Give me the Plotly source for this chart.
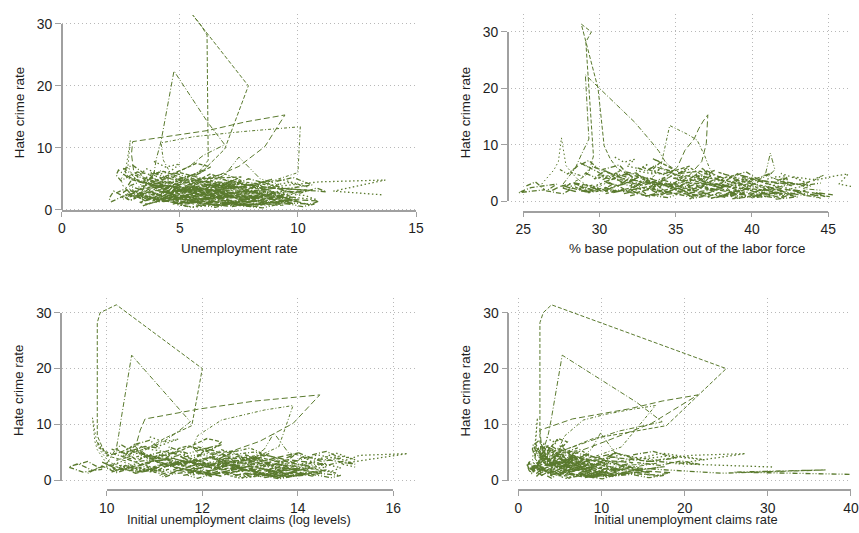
import plotly.graph_objects as go

W, H = 859, 533
# The page is photographed with an 8px frame and scaled back to 859x533, so
# target screen pixels are converted to paper pixels through this mapping.
FRAME = 8
SX, SY = (W + 2 * FRAME) / W, (H + 2 * FRAME) / H

# ---------------- data: one row per state, 14 yearly observations ----------------
# Hate crime rate (shared by all four panels)
hate = [
    [3.5, 4.2, 5.1, 8.0, 28.2, 30.0, 31.4, 20.0, 9.8, 7.5, 6.0, 5.2, 4.8, 4.1],
    [3.0, 4.5, 5.8, 8.2, 11.0, 22.4, 14.0, 10.5, 8.8, 7.0, 6.2, 5.5, 4.8, 4.0],
    [2.5, 3.5, 4.8, 6.0, 9.0, 11.0, 12.8, 14.2, 15.3, 10.2, 7.0, 5.5, 4.3, 3.6],
    [2.0, 3.2, 4.0, 5.9, 8.0, 10.8, 11.8, 12.6, 13.4, 6.0, 4.5, 3.8, 3.0, 2.2],
    [3.0, 4.2, 5.5, 7.0, 11.2, 6.3, 4.9, 3.8, 3.1, 2.6, 2.2, 2.9, 3.4, 2.7],
    [2.8, 3.3, 4.1, 5.0, 8.5, 5.6, 4.4, 3.6, 3.0, 2.5, 3.1, 2.7, 2.2, 1.9],
    [2.1, 2.8, 1.9, 3.4, 2.6, 2.2, 3.0, 1.5, 2.4, 3.1, 2.0, 1.7, 2.5, 1.9],
    [3.8, 4.5, 3.2, 4.9, 4.1, 3.6, 5.2, 4.4, 3.9, 3.0, 3.5, 4.2, 3.3, 2.8],
    [1.2, 0.8, 1.5, 1.1, 0.6, 1.9, 1.4, 0.9, 1.3, 0.7, 1.0, 1.6, 0.5, 1.2],
    [5.6, 4.8, 6.3, 5.1, 4.4, 5.9, 6.8, 5.3, 4.6, 3.9, 4.7, 5.5, 4.1, 3.6],
    [2.9, 3.3, 2.4, 2.0, 2.7, 3.6, 2.2, 1.8, 2.6, 3.2, 2.3, 1.6, 2.1, 2.8],
    [0.9, 1.4, 0.7, 1.8, 2.3, 1.5, 1.0, 0.6, 1.2, 1.7, 0.8, 1.1, 0.4, 0.9],
    [4.2, 3.6, 4.8, 3.9, 3.1, 4.5, 3.7, 2.9, 3.4, 4.1, 3.2, 2.6, 3.8, 3.0],
    [6.5, 7.2, 5.8, 6.1, 5.3, 4.7, 5.6, 6.4, 4.9, 4.3, 5.0, 3.8, 4.5, 3.9],
    [1.6, 2.2, 1.3, 2.7, 1.9, 1.1, 2.4, 1.7, 1.0, 2.0, 1.4, 0.8, 1.5, 1.1],
    [3.1, 2.5, 3.7, 2.9, 3.5, 2.3, 2.8, 3.9, 3.3, 2.4, 3.0, 2.7, 2.2, 3.4],
    [7.8, 6.9, 7.4, 6.2, 5.7, 6.6, 5.4, 4.8, 5.9, 5.1, 4.4, 5.3, 4.0, 4.6],
    [0.5, 0.9, 1.3, 0.7, 1.6, 1.0, 0.4, 0.8, 1.2, 0.6, 1.4, 0.9, 0.3, 0.7],
    [2.4, 1.8, 2.9, 3.5, 2.7, 2.0, 1.5, 2.3, 2.9, 1.9, 2.6, 3.2, 2.1, 1.6],
    [4.6, 5.2, 4.0, 3.4, 4.3, 5.0, 3.7, 3.1, 4.2, 3.6, 2.9, 3.5, 2.7, 3.2],
    [1.9, 2.6, 3.1, 2.3, 1.7, 2.5, 3.3, 2.8, 2.1, 1.6, 2.4, 1.8, 1.3, 2.0],
    [3.6, 4.1, 3.0, 2.6, 3.8, 4.4, 3.4, 2.5, 3.1, 3.7, 2.8, 2.3, 3.2, 2.6],
    [3.9, 4.4, 3.7, 4.9, 4.0, 3.3, 4.3, 3.8, 4.6, 3.6, 4.5, 4.8, 3.0, 2.4],
    [1.4, 1.9, 2.5, 1.8, 1.2, 2.2, 1.6, 1.0, 1.7, 2.3, 1.3, 1.9, 1.5, 1.1],
    [6.0, 5.4, 6.9, 7.5, 6.3, 5.5, 4.8, 5.7, 6.2, 4.9, 5.3, 4.5, 5.8, 4.2],
    [2.7, 3.4, 2.0, 1.5, 2.4, 3.0, 1.8, 1.3, 2.2, 2.8, 1.9, 1.4, 2.6, 1.7],
    [1.8, 2.3, 1.5, 2.0, 2.9, 2.2, 1.6, 1.3, 1.9, 2.5, 1.7, 1.2, 2.0, 1.5],
    [3.3, 2.7, 3.9, 3.1, 2.5, 3.6, 2.9, 2.2, 2.8, 3.5, 2.6, 2.1, 3.0, 2.4],
    [0.7, 1.1, 0.5, 1.4, 0.9, 0.6, 1.2, 0.8, 0.4, 1.0, 0.7, 1.3, 0.6, 0.9],
    [4.9, 4.2, 5.4, 4.6, 3.8, 4.4, 5.1, 3.9, 3.3, 4.0, 3.4, 2.8, 3.6, 3.1],
    [2.2, 1.7, 2.6, 3.0, 2.4, 1.8, 2.7, 2.1, 1.6, 2.3, 1.9, 2.5, 1.4, 1.8],
    [3.9, 3.4, 4.4, 3.7, 3.0, 3.6, 4.1, 3.2, 2.7, 3.3, 2.9, 2.4, 3.1, 2.6],
    [1.3, 1.7, 1.0, 1.5, 2.1, 1.4, 0.9, 1.2, 1.8, 1.1, 1.5, 0.8, 1.3, 1.0],
    [5.2, 5.8, 4.7, 4.1, 5.0, 5.5, 4.3, 3.7, 4.5, 5.1, 3.9, 3.4, 4.2, 3.5],
    [2.6, 3.1, 2.2, 1.7, 2.5, 3.2, 2.4, 1.9, 2.7, 2.1, 1.6, 2.3, 1.8, 2.2],
    [0.8, 1.2, 1.6, 1.0, 0.6, 1.3, 1.8, 1.1, 0.7, 1.4, 0.9, 0.5, 1.1, 0.8],
    [3.5, 4.0, 3.1, 2.7, 3.6, 4.3, 3.3, 2.8, 3.4, 3.9, 2.9, 2.5, 3.2, 2.7],
    [1.5, 2.0, 2.6, 1.9, 1.3, 1.8, 2.3, 1.6, 1.1, 1.7, 2.2, 1.4, 1.0, 1.5],
    [4.4, 3.8, 4.9, 4.2, 3.5, 4.0, 4.6, 3.6, 3.0, 3.7, 3.2, 2.7, 3.5, 2.9],
    [2.0, 2.5, 1.6, 2.2, 2.8, 2.1, 1.5, 1.9, 2.4, 1.7, 2.0, 1.3, 1.8, 1.4],
    [3.0, 3.6, 2.5, 3.2, 3.9, 2.8, 2.3, 3.1, 3.6, 2.6, 3.0, 2.2, 2.7, 2.3],
    [5.9, 5.3, 6.4, 5.6, 4.8, 5.4, 6.0, 4.9, 4.2, 4.8, 4.3, 3.7, 4.6, 4.0],
]

# Unemployment rate
unemp = [
    [4.5, 4.8, 5.6, 6.2, 6.15, 5.85, 5.55, 7.9, 6.9, 6.3, 5.9, 5.2, 4.9, 4.6],
    [3.4, 3.6, 3.9, 4.0, 4.2, 4.75, 6.2, 6.9, 6.0, 5.4, 5.0, 4.6, 4.3, 3.9],
    [4.6, 4.2, 3.7, 3.05, 2.95, 3.0, 6.2, 7.8, 9.45, 8.6, 7.5, 6.6, 5.9, 5.3],
    [6.5, 5.9, 5.2, 4.6, 4.3, 4.2, 5.6, 7.6, 10.1, 10.0, 8.8, 7.6, 6.8, 6.1],
    [3.6, 3.3, 3.0, 2.8, 2.9, 2.7, 2.5, 2.6, 3.0, 3.5, 4.8, 4.3, 3.8, 3.3],
    [8.0, 8.7, 9.2, 8.4, 7.5, 6.9, 6.2, 5.7, 6.5, 7.8, 10.5, 9.9, 9.1, 8.2],
    [5.2, 6.8, 7.4, 6.1, 5.5, 4.9, 4.3, 4.0, 4.6, 5.8, 6.3, 5.6, 8.9, 7.7],
    [4.1, 4.6, 5.3, 5.9, 5.0, 4.4, 3.8, 3.5, 3.9, 4.8, 5.5, 7.2, 6.4, 5.1],
    [6.9, 7.5, 8.3, 7.1, 6.4, 5.8, 5.2, 4.7, 5.5, 6.6, 9.8, 9.1, 8.2, 7.0],
    [3.1, 3.6, 4.2, 3.8, 3.3, 2.9, 2.6, 2.8, 3.4, 4.0, 5.1, 4.5, 3.7, 3.2],
    [7.8, 8.6, 9.4, 8.1, 7.2, 6.5, 5.9, 5.4, 6.2, 7.4, 10.3, 10.8, 9.6, 8.5],
    [4.9, 5.4, 6.1, 5.6, 4.8, 4.2, 3.7, 3.4, 3.9, 5.0, 7.9, 7.3, 6.5, 5.7],
    [6.0, 6.7, 7.3, 6.6, 5.9, 5.3, 4.8, 4.4, 5.1, 6.2, 8.8, 8.3, 7.4, 6.5],
    [2.6, 3.0, 3.5, 3.2, 2.8, 2.5, 2.3, 2.4, 2.9, 3.6, 4.4, 3.9, 3.3, 2.9],
    [8.4, 9.1, 10.0, 8.9, 8.0, 7.3, 6.6, 6.1, 6.8, 8.1, 10.9, 10.5, 9.8, 8.8],
    [5.6, 6.3, 6.9, 6.2, 5.5, 4.9, 4.4, 4.1, 4.7, 5.9, 8.3, 7.9, 7.0, 6.1],
    [3.9, 4.4, 5.0, 4.6, 4.1, 3.6, 3.2, 3.0, 3.5, 4.3, 5.9, 5.4, 4.8, 4.2],
    [7.2, 7.9, 8.7, 7.6, 6.8, 6.1, 5.5, 5.0, 5.8, 7.0, 9.6, 9.2, 8.5, 7.5],
    [4.5, 5.0, 5.7, 5.2, 4.6, 4.0, 3.5, 3.2, 3.7, 4.7, 6.9, 6.4, 5.8, 5.0],
    [9.1, 9.8, 10.6, 9.5, 8.6, 7.9, 7.1, 6.6, 7.4, 8.8, 11.2, 10.8, 10.1, 9.3],
    [3.4, 3.9, 4.5, 4.1, 3.6, 3.2, 2.8, 2.6, 3.1, 3.8, 5.3, 4.9, 4.3, 3.7],
    [6.4, 7.1, 7.8, 7.0, 6.3, 5.6, 5.0, 4.6, 5.3, 6.4, 9.2, 8.7, 7.9, 6.9],
    [8.9, 9.6, 10.4, 9.3, 8.5, 7.8, 7.0, 6.4, 7.2, 8.7, 10.9, 13.7, 11.5, 13.6],
    [7.5, 8.2, 9.0, 8.0, 7.1, 6.4, 5.7, 5.3, 6.0, 7.3, 10.0, 9.5, 8.7, 7.7],
    [5.0, 5.6, 6.3, 5.7, 5.0, 4.5, 4.0, 3.7, 4.3, 5.3, 7.6, 7.1, 6.3, 5.5],
    [2.3, 2.7, 3.1, 2.9, 2.5, 2.2, 2.0, 2.1, 2.6, 3.2, 3.9, 3.5, 3.0, 2.6],
    [5.9, 6.5, 7.1, 6.5, 5.8, 5.2, 4.6, 4.3, 4.9, 6.0, 8.6, 8.0, 7.2, 6.3],
    [4.3, 4.8, 5.4, 5.0, 4.4, 3.9, 3.4, 3.1, 3.6, 4.5, 6.6, 6.1, 5.4, 4.7],
    [6.6, 7.2, 8.0, 7.3, 6.5, 5.9, 5.3, 4.9, 5.6, 6.8, 9.4, 8.9, 8.0, 7.1],
    [3.7, 4.2, 4.8, 4.4, 3.9, 3.4, 3.0, 2.8, 3.3, 4.1, 5.7, 5.2, 4.6, 4.0],
    [7.0, 7.7, 8.5, 7.8, 7.0, 6.3, 5.6, 5.2, 6.0, 7.2, 9.9, 9.4, 8.6, 7.6],
    [5.4, 6.0, 6.6, 6.0, 5.3, 4.7, 4.2, 3.9, 4.5, 5.6, 7.9, 7.4, 6.7, 5.9],
    [4.7, 5.2, 5.9, 5.4, 4.7, 4.1, 3.6, 3.3, 3.8, 4.9, 7.2, 6.7, 6.0, 5.2],
    [6.2, 6.9, 7.6, 6.8, 6.1, 5.4, 4.9, 4.5, 5.2, 6.3, 9.0, 8.5, 7.6, 6.7],
    [3.2, 3.7, 4.3, 3.9, 3.4, 3.0, 2.7, 2.5, 3.0, 3.7, 5.0, 4.6, 4.0, 3.5],
    [8.1, 8.8, 9.7, 8.6, 7.7, 7.0, 6.3, 5.8, 6.6, 7.9, 10.7, 10.2, 9.4, 8.4],
    [4.0, 4.5, 5.1, 4.7, 4.2, 3.7, 3.3, 3.0, 3.5, 4.4, 6.2, 5.7, 5.0, 4.4],
    [5.7, 6.4, 7.0, 6.4, 5.7, 5.1, 4.5, 4.2, 4.8, 5.9, 8.5, 8.0, 7.1, 6.2],
    [7.4, 8.1, 8.9, 8.2, 7.3, 6.6, 5.9, 5.5, 6.3, 7.5, 10.4, 9.8, 9.0, 8.0],
    [3.5, 4.0, 4.6, 4.2, 3.7, 3.3, 2.9, 2.7, 3.2, 3.9, 5.4, 5.0, 4.4, 3.8],
    [6.8, 7.4, 8.2, 7.4, 6.6, 6.0, 5.4, 5.0, 5.7, 6.9, 9.5, 9.0, 8.2, 7.2],
    [4.8, 5.3, 6.0, 5.5, 4.8, 4.3, 3.8, 3.5, 4.0, 5.1, 7.4, 6.9, 6.1, 5.3],
]

# % base population out of the labor force
out_lf = [
    [28.4, 28.9, 29.3, 29.6, 29.1, 29.46, 28.8, 29.9, 30.3, 30.7, 31.1, 31.5, 31.9, 32.3],
    [27.6, 28.0, 28.4, 28.8, 29.3, 29.07, 32.3, 33.4, 33.9, 34.3, 34.6, 35.0, 35.3, 35.7],
    [33.5, 34.0, 34.6, 35.1, 35.6, 36.2, 36.5, 36.8, 37.1, 37.0, 36.7, 36.2, 35.8, 35.4],
    [38.5, 38.0, 37.6, 37.2, 36.9, 36.4, 35.8, 35.2, 34.6, 34.0, 33.6, 33.2, 32.8, 32.4],
    [26.2, 26.6, 27.0, 27.3, 27.5, 27.8, 28.2, 28.6, 29.0, 29.4, 29.8, 30.2, 30.6, 31.0],
    [39.4, 40.0, 40.6, 40.9, 41.2, 41.5, 41.1, 41.8, 42.4, 41.7, 43.2, 43.9, 43.3, 44.6],
    [33.1, 33.8, 34.2, 33.5, 34.6, 35.0, 34.1, 33.7, 34.9, 35.6, 36.2, 35.1, 36.8, 37.4],
    [30.2, 30.8, 31.5, 31.1, 31.9, 32.4, 31.7, 32.8, 33.2, 32.5, 33.6, 34.3, 33.9, 34.8],
    [36.5, 37.1, 37.8, 38.4, 37.6, 38.9, 39.5, 38.2, 39.8, 40.4, 41.2, 40.6, 41.9, 42.5],
    [27.4, 27.9, 28.6, 28.1, 28.9, 29.4, 28.7, 29.8, 30.3, 29.6, 30.9, 31.4, 30.7, 31.8],
    [38.1, 38.7, 39.4, 38.8, 39.9, 40.5, 39.6, 40.9, 41.6, 40.8, 42.3, 43.1, 42.4, 43.7],
    [32.0, 32.6, 33.3, 32.8, 33.7, 34.2, 33.4, 34.5, 35.1, 34.4, 35.8, 36.5, 35.9, 37.0],
    [35.2, 35.7, 36.4, 35.9, 36.8, 37.3, 36.5, 37.6, 38.2, 37.5, 38.9, 39.6, 38.8, 40.1],
    [28.8, 29.3, 29.9, 29.5, 30.4, 30.9, 30.2, 31.3, 31.8, 31.1, 32.4, 33.0, 32.3, 33.5],
    [40.2, 40.8, 41.5, 40.9, 41.8, 42.4, 41.6, 42.9, 43.5, 42.7, 44.1, 44.8, 44.2, 45.3],
    [34.0, 34.5, 35.2, 34.7, 35.6, 36.1, 35.3, 36.4, 37.0, 36.3, 37.7, 38.4, 37.6, 38.9],
    [31.0, 31.6, 32.3, 31.8, 32.7, 33.2, 32.4, 33.5, 34.1, 33.4, 34.8, 35.5, 34.9, 36.1],
    [37.3, 37.9, 38.6, 38.0, 39.0, 39.6, 38.7, 40.0, 40.6, 39.9, 41.4, 42.1, 41.5, 42.8],
    [29.5, 30.1, 30.8, 30.3, 31.2, 31.7, 30.9, 32.0, 32.6, 31.9, 33.3, 34.0, 33.4, 34.6],
    [39.0, 39.6, 40.3, 39.7, 40.7, 41.3, 40.4, 41.7, 42.3, 41.6, 43.1, 43.8, 43.2, 44.5],
    [26.9, 27.4, 28.1, 27.6, 28.4, 28.9, 28.2, 29.2, 29.8, 29.1, 30.4, 31.0, 30.4, 31.5],
    [35.9, 36.5, 37.1, 36.6, 37.5, 38.0, 37.2, 38.4, 39.0, 38.3, 39.7, 40.4, 39.8, 41.0],
    [41.0, 41.7, 42.4, 41.9, 42.9, 43.5, 42.7, 44.0, 44.7, 44.0, 45.5, 46.3, 45.7, 46.9],
    [38.6, 39.2, 39.9, 39.3, 40.3, 40.9, 40.1, 41.3, 41.9, 41.2, 42.7, 43.5, 42.9, 44.1],
    [32.8, 33.4, 34.0, 33.5, 34.4, 34.9, 34.2, 35.3, 35.9, 35.2, 36.6, 37.3, 36.7, 37.9],
    [25.2, 25.8, 26.4, 24.7, 25.5, 27.2, 26.5, 27.6, 28.2, 27.5, 28.8, 29.4, 28.7, 29.9],
    [34.6, 35.1, 35.8, 35.3, 36.2, 36.7, 35.9, 37.0, 37.6, 36.9, 38.3, 39.0, 38.3, 39.5],
    [30.6, 31.2, 31.9, 31.4, 32.3, 32.8, 32.0, 33.1, 33.7, 33.0, 34.4, 35.1, 34.5, 35.6],
    [36.1, 36.7, 37.4, 36.8, 37.8, 38.3, 37.5, 38.7, 39.3, 38.6, 40.0, 40.7, 40.1, 41.3],
    [29.1, 29.7, 30.4, 29.9, 30.8, 31.3, 30.5, 31.6, 32.2, 31.5, 32.9, 33.6, 33.0, 34.2],
    [36.9, 37.5, 38.2, 37.6, 38.6, 39.2, 38.3, 39.6, 40.2, 39.5, 41.0, 41.7, 41.1, 42.3],
    [33.4, 34.0, 34.7, 34.2, 35.1, 35.6, 34.8, 35.9, 36.5, 35.8, 37.2, 37.9, 37.3, 38.5],
    [31.6, 32.2, 32.9, 32.4, 33.3, 33.8, 33.0, 34.1, 34.7, 34.0, 35.4, 36.1, 35.5, 36.7],
    [35.5, 36.0, 36.7, 36.2, 37.1, 37.6, 36.8, 37.9, 38.5, 37.8, 39.3, 40.0, 39.3, 40.6],
    [28.1, 28.6, 29.3, 28.8, 29.7, 30.2, 29.4, 30.5, 31.1, 30.4, 31.8, 32.5, 31.9, 33.0],
    [39.7, 40.3, 41.0, 40.4, 41.4, 42.0, 41.1, 42.4, 43.0, 42.3, 43.8, 44.5, 43.9, 45.1],
    [30.4, 31.0, 31.7, 31.2, 32.1, 32.6, 31.8, 32.9, 33.5, 32.8, 34.2, 34.9, 34.3, 35.4],
    [34.3, 34.9, 35.5, 35.0, 35.9, 36.4, 35.6, 36.7, 37.3, 36.6, 38.0, 38.7, 38.1, 39.3],
    [37.8, 38.4, 39.1, 38.5, 39.5, 40.1, 39.2, 40.5, 41.1, 40.4, 41.9, 42.6, 42.0, 43.2],
    [27.9, 28.4, 29.1, 28.6, 29.5, 30.0, 29.2, 30.3, 30.9, 30.2, 31.6, 32.3, 31.7, 32.8],
    [36.3, 36.9, 37.6, 37.0, 38.0, 38.5, 37.7, 38.9, 39.5, 38.8, 40.2, 40.9, 40.3, 41.5],
    [32.5, 33.1, 33.7, 33.2, 34.1, 34.6, 33.8, 34.9, 35.5, 34.8, 36.2, 36.9, 36.3, 37.5],
]

# Initial unemployment claims (log levels)
claims_log = [
    [10.4, 10.1, 9.95, 9.8, 9.8, 9.86, 10.2, 12.0, 11.78, 11.2, 10.9, 10.6, 10.5, 10.3],
    [10.0, 10.1, 10.2, 10.25, 10.3, 10.52, 11.4, 11.75, 11.5, 11.2, 11.0, 10.8, 10.6, 10.4],
    [11.3, 11.0, 10.8, 10.6, 10.7, 10.8, 11.95, 13.1, 14.46, 13.9, 13.2, 12.7, 12.3, 12.0],
    [12.4, 12.2, 12.0, 11.8, 11.9, 12.4, 12.9, 13.3, 13.9, 13.6, 13.2, 12.9, 12.6, 12.3],
    [10.0, 9.9, 9.8, 9.75, 9.7, 9.8, 9.9, 10.0, 10.1, 10.3, 10.6, 10.5, 10.3, 10.1],
    [13.6, 13.9, 14.2, 13.8, 13.5, 13.3, 13.1, 13.2, 13.4, 14.0, 14.6, 14.4, 14.0, 13.7],
    [12.3, 12.6, 12.9, 12.4, 12.1, 12.2, 11.9, 11.8, 12.0, 12.5, 12.3, 12.1, 12.8, 12.6],
    [11.2, 11.5, 11.8, 11.4, 11.0, 10.9, 10.7, 10.8, 11.1, 11.6, 11.9, 12.2, 11.7, 11.3],
    [13.1, 13.4, 13.7, 13.3, 13.0, 12.8, 12.6, 12.7, 12.9, 13.5, 14.1, 13.9, 13.6, 13.2],
    [10.1, 10.4, 10.6, 10.3, 10.0, 9.9, 9.8, 9.9, 10.2, 10.5, 10.8, 10.6, 10.4, 10.2],
    [14.0, 14.3, 14.6, 14.2, 13.9, 13.7, 13.5, 13.6, 13.8, 14.4, 14.9, 14.7, 14.3, 14.1],
    [11.6, 11.9, 12.2, 11.8, 11.5, 11.3, 11.1, 11.2, 11.4, 11.9, 12.4, 12.2, 11.9, 11.7],
    [12.8, 13.1, 13.4, 13.0, 12.7, 12.5, 12.3, 12.4, 12.6, 13.2, 13.7, 13.5, 13.1, 12.9],
    [10.6, 10.9, 11.1, 10.8, 10.5, 10.4, 10.2, 10.3, 10.6, 11.0, 11.4, 11.2, 10.9, 10.7],
    [13.5, 13.8, 14.1, 13.7, 13.4, 13.2, 13.0, 13.1, 13.3, 13.9, 14.5, 14.3, 13.9, 13.6],
    [12.0, 12.3, 12.5, 12.2, 11.9, 11.7, 11.5, 11.6, 11.8, 12.3, 12.8, 12.6, 12.2, 12.0],
    [10.9, 11.2, 11.5, 11.1, 10.8, 10.6, 10.4, 10.5, 10.7, 11.2, 11.7, 11.5, 11.1, 10.9],
    [13.3, 13.6, 13.9, 13.5, 13.2, 13.0, 12.8, 12.9, 13.1, 13.7, 14.2, 14.0, 13.6, 13.4],
    [11.4, 11.7, 12.0, 11.6, 11.3, 11.1, 10.9, 11.0, 11.2, 11.7, 12.2, 12.0, 11.6, 11.4],
    [14.3, 14.6, 14.9, 14.5, 14.2, 14.0, 13.8, 13.9, 14.1, 14.7, 15.2, 15.0, 14.6, 14.4],
    [10.3, 10.6, 10.9, 10.5, 10.2, 10.1, 9.9, 10.0, 10.2, 10.7, 11.1, 10.9, 10.6, 10.4],
    [12.5, 12.8, 13.1, 12.7, 12.4, 12.2, 12.0, 12.1, 12.3, 12.9, 13.4, 13.2, 12.8, 12.6],
    [14.6, 14.9, 15.2, 14.8, 14.5, 14.3, 14.1, 14.2, 14.4, 15.0, 15.3, 16.3, 14.9, 15.2],
    [13.8, 14.1, 14.4, 14.0, 13.7, 13.5, 13.3, 13.4, 13.6, 14.2, 14.8, 14.6, 14.2, 13.9],
    [11.9, 12.2, 12.4, 12.1, 11.8, 11.6, 11.4, 11.5, 11.7, 12.2, 12.7, 12.5, 12.1, 11.9],
    [9.3, 9.6, 9.9, 9.5, 9.2, 9.4, 9.7, 9.6, 9.8, 10.1, 10.4, 10.2, 9.9, 9.7],
    [12.6, 12.9, 13.2, 12.8, 12.5, 12.3, 12.1, 12.2, 12.4, 13.0, 13.5, 13.3, 12.9, 12.7],
    [11.3, 11.6, 11.9, 11.5, 11.2, 11.0, 10.8, 10.9, 11.1, 11.6, 12.1, 11.9, 11.5, 11.3],
    [13.0, 13.3, 13.6, 13.2, 12.9, 12.7, 12.5, 12.6, 12.8, 13.4, 13.9, 13.7, 13.3, 13.1],
    [10.7, 11.0, 11.3, 10.9, 10.6, 10.5, 10.3, 10.4, 10.6, 11.1, 11.5, 11.3, 11.0, 10.8],
    [13.2, 13.5, 13.8, 13.4, 13.1, 12.9, 12.7, 12.8, 13.0, 13.6, 14.1, 13.9, 13.5, 13.3],
    [12.2, 12.5, 12.8, 12.4, 12.1, 11.9, 11.7, 11.8, 12.0, 12.6, 13.1, 12.9, 12.5, 12.3],
    [11.7, 12.0, 12.3, 11.9, 11.6, 11.4, 11.2, 11.3, 11.5, 12.1, 12.6, 12.4, 12.0, 11.8],
    [12.7, 13.0, 13.3, 12.9, 12.6, 12.4, 12.2, 12.3, 12.5, 13.1, 13.6, 13.4, 13.0, 12.8],
    [10.4, 10.7, 11.0, 10.6, 10.3, 10.2, 10.0, 10.1, 10.3, 10.8, 11.2, 11.0, 10.7, 10.5],
    [13.9, 14.2, 14.5, 14.1, 13.8, 13.6, 13.4, 13.5, 13.7, 14.3, 14.9, 14.7, 14.3, 14.0],
    [11.1, 11.4, 11.7, 11.3, 11.0, 10.8, 10.6, 10.7, 10.9, 11.4, 11.9, 11.7, 11.3, 11.1],
    [12.4, 12.7, 13.0, 12.6, 12.3, 12.1, 11.9, 12.0, 12.2, 12.8, 13.3, 13.1, 12.7, 12.5],
    [13.4, 13.7, 14.0, 13.6, 13.3, 13.1, 12.9, 13.0, 13.2, 13.8, 14.3, 14.1, 13.7, 13.5],
    [10.5, 10.8, 11.1, 10.7, 10.4, 10.3, 10.1, 10.2, 10.4, 10.9, 11.3, 11.1, 10.8, 10.6],
    [12.9, 13.2, 13.5, 13.1, 12.8, 12.6, 12.4, 12.5, 12.7, 13.3, 13.8, 13.6, 13.2, 13.0],
    [11.8, 12.1, 12.4, 12.0, 11.7, 11.5, 11.3, 11.4, 11.6, 12.1, 12.6, 12.4, 12.0, 11.8],
]

# Initial unemployment claims rate
claims_rate = [
    [3.2, 2.9, 2.7, 2.6, 2.6, 3.0, 4.0, 25.0, 17.8, 9.0, 6.5, 5.0, 4.2, 3.8],
    [2.5, 2.8, 3.1, 3.6, 3.97, 5.28, 14.2, 17.3, 12.0, 8.5, 6.8, 5.6, 4.8, 4.2],
    [4.2, 3.6, 3.1, 2.8, 2.6, 6.5, 13.3, 17.3, 21.6, 16.0, 10.5, 7.8, 6.2, 5.3],
    [6.8, 6.0, 5.4, 4.9, 5.6, 7.8, 10.4, 13.2, 16.5, 12.4, 9.6, 8.0, 6.9, 6.1],
    [2.2, 2.0, 1.9, 2.1, 2.3, 2.0, 1.8, 1.7, 1.9, 2.2, 3.0, 2.7, 2.4, 2.1],
    [10.2, 12.0, 14.1, 11.6, 9.9, 8.8, 7.8, 7.2, 8.3, 11.0, 16.7, 15.0, 13.0, 11.1],
    [5.1, 6.8, 8.2, 6.0, 5.3, 4.8, 4.1, 3.9, 4.5, 6.2, 5.7, 5.0, 9.4, 7.1],
    [3.9, 4.6, 5.5, 4.8, 4.1, 3.6, 3.2, 3.0, 3.5, 4.4, 5.2, 7.0, 5.9, 4.7],
    [7.2, 8.5, 9.9, 7.8, 6.6, 5.9, 5.1, 4.8, 5.4, 7.6, 11.8, 10.2, 9.0, 7.4],
    [2.4, 2.9, 3.6, 3.1, 2.6, 2.3, 2.0, 2.2, 2.7, 3.3, 4.4, 3.8, 3.0, 2.5],
    [9.8, 11.2, 12.9, 10.5, 9.1, 8.2, 7.3, 6.8, 7.9, 10.1, 14.6, 13.3, 11.7, 10.3],
    [2.8, 3.4, 4.1, 3.6, 3.0, 2.6, 2.3, 2.1, 2.5, 3.3, 5.2, 4.7, 4.0, 3.4],
    [6.1, 7.3, 8.6, 7.0, 6.0, 5.4, 4.7, 4.3, 5.0, 6.7, 10.4, 9.2, 7.9, 6.6],
    [2.0, 2.5, 3.0, 2.6, 2.2, 1.9, 1.7, 1.8, 2.2, 2.8, 3.7, 3.2, 2.7, 2.3],
    [11.5, 13.4, 15.8, 12.9, 11.0, 9.7, 8.6, 8.0, 9.2, 12.1, 18.3, 16.4, 14.2, 12.0],
    [4.6, 5.5, 6.6, 5.4, 4.6, 4.1, 3.6, 3.3, 3.8, 5.0, 8.0, 7.1, 6.1, 5.1],
    [3.4, 4.1, 4.9, 4.2, 3.6, 3.1, 2.7, 2.5, 3.0, 3.9, 5.6, 5.0, 4.3, 3.7],
    [8.0, 9.4, 10.9, 8.9, 7.7, 6.9, 6.1, 5.6, 6.5, 8.6, 12.9, 11.5, 10.1, 8.5],
    [2.2, 2.7, 3.3, 2.9, 2.4, 2.1, 1.8, 1.7, 2.0, 2.6, 4.0, 3.6, 3.1, 2.6],
    [13.8, 16.2, 19.0, 15.4, 13.1, 11.6, 10.3, 9.6, 11.1, 14.5, 21.8, 19.6, 17.0, 14.3],
    [1.6, 2.0, 2.5, 2.1, 1.8, 1.5, 1.3, 1.2, 1.5, 1.9, 2.9, 2.6, 2.2, 1.8],
    [5.5, 6.6, 7.8, 6.4, 5.4, 4.8, 4.2, 3.9, 4.5, 6.0, 9.3, 8.3, 7.2, 6.0],
    [15.2, 18.1, 22.4, 17.3, 14.6, 12.8, 11.4, 10.6, 12.2, 16.3, 20.8, 27.3, 18.9, 30.8],
    [12.4, 14.9, 17.6, 14.2, 12.0, 10.6, 9.4, 8.7, 10.1, 13.3, 24.5, 37.0, 26.0, 40.0],
    [4.1, 4.9, 5.9, 4.8, 4.1, 3.6, 3.2, 2.9, 3.4, 4.5, 7.1, 6.3, 5.4, 4.6],
    [1.1, 1.4, 1.8, 1.5, 1.2, 1.0, 1.3, 1.6, 1.9, 2.3, 3.1, 2.7, 2.2, 1.8],
    [5.8, 7.0, 8.1, 6.7, 5.7, 5.1, 4.4, 4.0, 4.7, 6.4, 9.8, 8.7, 7.5, 6.3],
    [3.1, 3.7, 4.5, 3.9, 3.3, 2.9, 2.5, 2.3, 2.7, 3.6, 5.4, 4.8, 4.1, 3.5],
    [6.9, 8.2, 9.6, 7.9, 6.8, 6.1, 5.3, 4.9, 5.7, 7.5, 11.4, 10.2, 8.8, 7.3],
    [2.6, 3.2, 3.9, 3.4, 2.8, 2.4, 2.1, 2.0, 2.4, 3.1, 4.7, 4.2, 3.6, 3.0],
    [7.6, 9.0, 10.4, 8.6, 7.4, 6.6, 5.8, 5.3, 6.2, 8.2, 12.3, 11.0, 9.6, 8.0],
    [4.9, 5.9, 7.0, 5.8, 4.9, 4.4, 3.8, 3.5, 4.1, 5.4, 8.5, 7.6, 6.5, 5.4],
    [3.5, 4.2, 5.1, 4.4, 3.7, 3.2, 2.8, 2.6, 3.1, 4.0, 6.1, 5.5, 4.7, 3.9],
    [5.9, 7.1, 8.3, 6.8, 5.8, 5.2, 4.5, 4.2, 4.8, 6.5, 10.0, 9.0, 7.7, 6.4],
    [1.9, 2.3, 2.8, 2.4, 2.0, 1.8, 1.6, 1.5, 1.8, 2.3, 3.4, 3.0, 2.6, 2.1],
    [10.8, 12.7, 15.0, 12.2, 10.4, 9.2, 8.2, 7.6, 8.8, 11.6, 17.5, 15.7, 13.6, 11.5],
    [2.9, 3.5, 4.3, 3.7, 3.1, 2.7, 2.4, 2.2, 2.6, 3.4, 5.1, 4.5, 3.9, 3.3],
    [5.3, 6.4, 7.5, 6.2, 5.2, 4.6, 4.0, 3.7, 4.3, 5.8, 8.9, 8.0, 6.9, 5.7],
    [8.6, 10.1, 11.8, 9.6, 8.3, 7.4, 6.5, 6.0, 7.0, 9.2, 13.8, 12.4, 10.8, 9.0],
    [2.3, 2.8, 3.4, 2.9, 2.4, 2.1, 1.9, 1.8, 2.1, 2.7, 4.1, 3.7, 3.2, 2.7],
    [6.5, 7.7, 9.0, 7.4, 6.3, 5.7, 4.9, 4.6, 5.3, 7.0, 10.8, 9.7, 8.3, 6.9],
    [3.7, 4.5, 5.4, 4.6, 3.9, 3.4, 3.0, 2.8, 3.3, 4.3, 6.6, 5.9, 5.1, 4.3],
]

y_ticks = [0, 10, 20, 30]
x_ticks_p1 = [0, 5, 10, 15]
x_ticks_p2 = [25, 30, 35, 40, 45]
x_ticks_p3 = [10, 12, 14, 16]
x_ticks_p4 = [0, 10, 20, 30, 40]

x_titles = ["Unemployment rate",
            "% base population out of the labor force",
            "Initial unemployment claims (log levels)",
            "Initial unemployment claims rate"]
y_title = "Hate crime rate"

# ---------------- styling ----------------
LINE_COLOR = "#5a7a2e"
AXIS_COLOR = "#a0a0a0"
GRID_COLOR = "#b8b8b8"
TEXT_COLOR = "#1e1e1e"
FONT = "Liberation Sans, Arial, sans-serif"
TICK_SIZE = 13.5 * SY
TITLE_SIZE = 13 * SY
N_OUTLIER_STATES = 6      # the first rows are the states with the large spikes
dashes = ["4px,2px", "5px,2px,1px,2px", "6px,3px", "3px,2px,1px,2px", "1.5px,2.5px",
          "5px,2px,1px,2px,1px,2px"]


def px_x(p):
    """target screen x pixel -> paper fraction"""
    return (p * SX - FRAME) / W


def px_y(p):
    """target screen y pixel -> paper fraction"""
    return 1 - (p * SY - FRAME) / H


RIGHT = (W + FRAME) / SX  # right-most screen pixel the figure reaches

# panel geometry in target screen pixels: plot region + tick-axis placement
panels = [
    dict(xvar=unemp, xticks=x_ticks_p1,
         dom_x=(61.7, 416.0), rx=(0, 15), dom_y=(211.0, 14.0), ry=(-0.21, 31.56),
         ax_x=(61.7, 416.0), ax_y=(209.7, 23.7), xline_y=210.7, yline_x=61.7,
         xt=(239.0, 248.0), xt_size=TITLE_SIZE, yt=(19.5, 112.5)),
    dict(xvar=out_lf, xticks=x_ticks_p2,
         dom_x=(511.0, RIGHT), rx=(24.19, 46.49), dom_y=(203.0, 14.0), ry=(-0.354, 33.14),
         ax_x=(523.3, 828.3), ax_y=(201.0, 31.7), xline_y=211.5, yline_x=507.7,
         xt=(686.7, 248.0), xt_size=TITLE_SIZE, yt=(465.7, 112.5)),
    dict(xvar=claims_log, xticks=x_ticks_p3,
         dom_x=(62.0, 416.0), rx=(9.064, 16.475), dom_y=(482.0, 298.0), ry=(-0.232, 32.625),
         ax_x=(106.7, 393.3), ax_y=(480.7, 312.7), xline_y=490.7, yline_x=61.0,
         xt=(239.0, 520.0), xt_size=12.5 * SY, yt=(19.0, 391.0)),
    dict(xvar=claims_rate, xticks=x_ticks_p4,
         dom_x=(511.0, RIGHT), rx=(-0.88, 40.0), dom_y=(482.0, 298.0), ry=(-0.232, 32.625),
         ax_x=(518.3, RIGHT), ax_y=(480.7, 312.7), xline_y=490.7, yline_x=508.3,
         xt=(686.5, 520.0), xt_size=12.5 * SY, yt=(465.7, 391.0)),
]

fig = go.Figure()
layout = dict(
    width=W, height=H, margin=dict(l=0, r=0, t=0, b=0),
    paper_bgcolor="white", plot_bgcolor="rgba(0,0,0,0)",
    showlegend=False, font=dict(family=FONT, size=13, color=TEXT_COLOR),
    annotations=[],
)

for i, p in enumerate(panels):
    n = i + 1
    k = i + 5
    xa = "x" if n == 1 else f"x{n}"
    ya = "y" if n == 1 else f"y{n}"
    # data traces, one per state (dense bulk drawn slightly heavier)
    for s, (xs, ys) in enumerate(zip(p["xvar"], hate)):
        fig.add_trace(go.Scatter(
            x=xs, y=ys, mode="lines", xaxis=xa, yaxis=ya,
            line=dict(color=LINE_COLOR, width=1.0 if s < N_OUTLIER_STATES else 1.3,
                      dash=dashes[s % len(dashes)]),
            hoverinfo="skip"))
    # main axes: grid only
    layout[f"xaxis{'' if n == 1 else n}"] = dict(
        domain=[px_x(p["dom_x"][0]), min(1.0, px_x(p["dom_x"][1]))], range=list(p["rx"]),
        anchor=ya, tickmode="array", tickvals=p["xticks"], showticklabels=False,
        ticks="", showline=False, zeroline=False, showgrid=True,
        gridcolor=GRID_COLOR, griddash="1px,3px", gridwidth=1)
    layout[f"yaxis{'' if n == 1 else n}"] = dict(
        domain=[px_y(p["dom_y"][0]), px_y(p["dom_y"][1])], range=list(p["ry"]),
        anchor=xa, tickmode="array", tickvals=y_ticks, showticklabels=False,
        ticks="", showline=False, zeroline=False, showgrid=True,
        gridcolor=GRID_COLOR, griddash="1px,3px", gridwidth=1)
    # tick axes (Stata-style offset axis lines spanning the tick range)
    fig.add_trace(go.Scatter(x=[None], y=[None], xaxis=f"x{k}", yaxis=f"y{k}",
                             hoverinfo="skip"))
    layout[f"xaxis{k}"] = dict(
        domain=[px_x(p["ax_x"][0]), min(1.0, px_x(p["ax_x"][1]))],
        range=[p["xticks"][0], p["xticks"][-1]], anchor="free",
        position=px_y(p["xline_y"]), tickmode="array", tickvals=p["xticks"],
        ticks="outside", ticklen=5, tickwidth=1.3, tickcolor=AXIS_COLOR,
        showline=True, linecolor=AXIS_COLOR, linewidth=1.5, showgrid=False,
        zeroline=False, tickfont=dict(size=TICK_SIZE, color=TEXT_COLOR))
    layout[f"yaxis{k}"] = dict(
        domain=[px_y(p["ax_y"][0]), px_y(p["ax_y"][1])],
        range=[y_ticks[0], y_ticks[-1]], anchor="free",
        position=px_x(p["yline_x"]), tickmode="array", tickvals=y_ticks,
        ticks="outside", ticklen=6, tickwidth=1.3, tickcolor=AXIS_COLOR,
        showline=True, linecolor=AXIS_COLOR, linewidth=1.5, showgrid=False,
        zeroline=False, tickfont=dict(size=TICK_SIZE, color=TEXT_COLOR))
    # axis titles
    layout["annotations"].append(dict(
        text=x_titles[i], xref="paper", yref="paper",
        x=px_x(p["xt"][0]), y=px_y(p["xt"][1]), xanchor="center", yanchor="middle",
        showarrow=False, font=dict(size=p["xt_size"], color=TEXT_COLOR)))
    layout["annotations"].append(dict(
        text=y_title, xref="paper", yref="paper", textangle=-90,
        x=px_x(p["yt"][0]), y=px_y(p["yt"][1]), xanchor="center", yanchor="middle",
        showarrow=False, font=dict(size=TITLE_SIZE, color=TEXT_COLOR)))

fig.update_layout(**layout)
fig.write_html(
    "out.html", config={"displayModeBar": False},
    post_script="document.body.style.margin='0';document.body.style.overflow='hidden';")
